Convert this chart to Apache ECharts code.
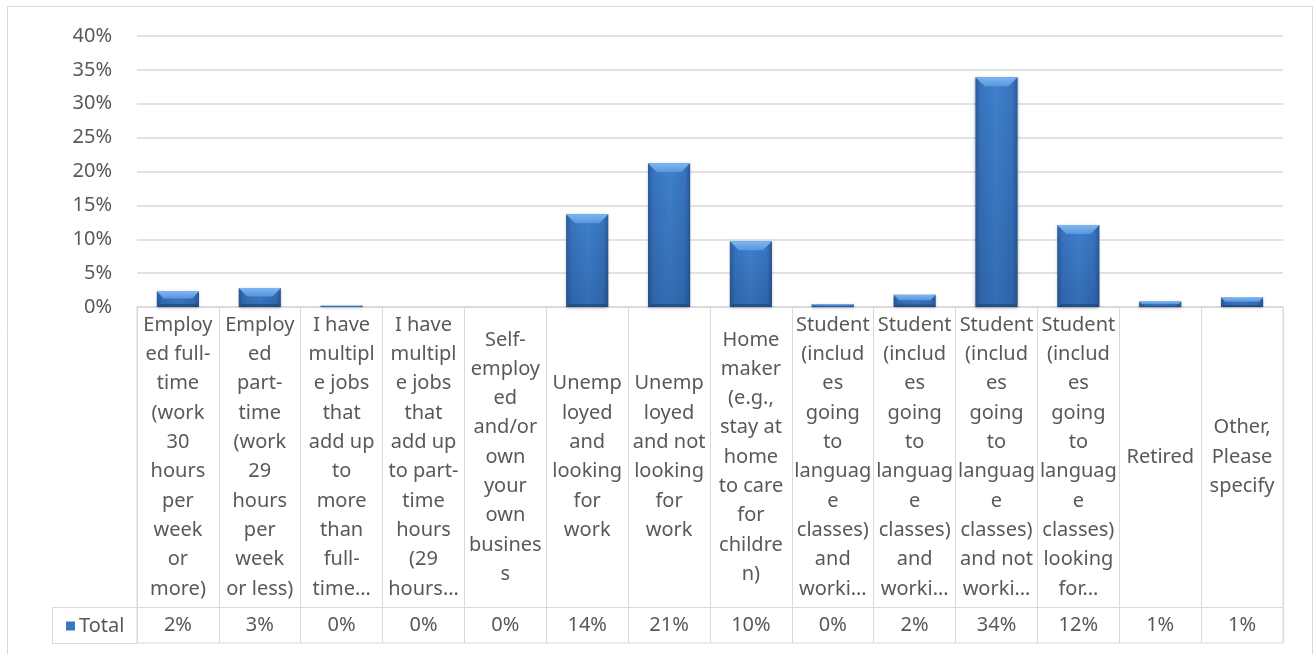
<!DOCTYPE html>
<html><head><meta charset="utf-8">
<script src="https://cdn.jsdelivr.net/npm/echarts@6/dist/echarts.min.js"></script>
<style>html,body{margin:0;padding:0;background:#fff}#c{width:1313px;height:654px}</style>
</head><body><div id="c"></div>
<script>
var categories = [
  "Employ\ned full-\ntime\n(work\n30\nhours\nper\nweek\nor\nmore)",
  "Employ\ned\npart-\ntime\n(work\n29\nhours\nper\nweek\nor less)",
  "I have\nmultipl\ne jobs\nthat\nadd up\nto\nmore\nthan\nfull-\ntime\u2026",
  "I have\nmultipl\ne jobs\nthat\nadd up\nto part-\ntime\nhours\n(29\nhours\u2026",
  "Self-\nemploy\ned\nand/or\nown\nyour\nown\nbusines\ns",
  "Unemp\nloyed\nand\nlooking\nfor\nwork",
  "Unemp\nloyed\nand not\nlooking\nfor\nwork",
  "Home\nmaker\n(e.g.,\nstay at\nhome\nto care\nfor\nchildre\nn)",
  "Student\n(includ\nes\ngoing\nto\nlanguag\ne\nclasses)\nand\nworki\u2026",
  "Student\n(includ\nes\ngoing\nto\nlanguag\ne\nclasses)\nand\nworki\u2026",
  "Student\n(includ\nes\ngoing\nto\nlanguag\ne\nclasses)\nand not\nworki\u2026",
  "Student\n(includ\nes\ngoing\nto\nlanguag\ne\nclasses)\nlooking\nfor\u2026",
  "Retired",
  "Other,\nPlease\nspecify"
];
var seriesName = "Total";
var totals = [2.3, 2.8, 0.2, 0, 0, 13.7, 21.2, 9.7, 0.4, 1.8, 33.9, 12.1, 0.8, 1.4];
var yMin = 0, yMax = 40, yStep = 5;

var valueLabels = totals.map(function (v) { return Math.round(v) + "%"; });
var txt = "#595959", line = "#d9d9d9", font = "Noto Sans";

var bodyGrad = new echarts.graphic.LinearGradient(0, 0, 1, 0, [
  {offset: 0, color: "#2a5c9c"}, {offset: 0.12, color: "#3874be"},
  {offset: 0.5, color: "#3f80cd"}, {offset: 0.88, color: "#3874be"},
  {offset: 1, color: "#29599a"}]);
var shadeGrad = new echarts.graphic.LinearGradient(0, 0, 0, 1, [
  {offset: 0, color: "rgba(0,20,60,0)"}, {offset: 1, color: "rgba(0,20,60,0.18)"}]);
var topGrad = new echarts.graphic.LinearGradient(0, 0, 0, 1, [
  {offset: 0, color: "#7db6f2"}, {offset: 1, color: "#5895dc"}]);

function renderBar(params, api) {
  var xi = api.value(0), v = api.value(1);
  var t = api.coord([xi, v]), b = api.coord([xi, 0]);
  var bw = api.size([1, 0])[0] * 0.515;
  var l = t[0] - bw / 2, r = t[0] + bw / 2;
  var h = b[1] - t[1];
  if (h <= 0.3) return;
  var bev = Math.min(9, h * 0.45);
  var side = Math.min(4, bw / 8);
  var bbot = Math.min(3, h * 0.2);
  return {
    type: "group",
    children: [
      {type: "rect", shape: {x: l, y: t[1], width: bw, height: h},
        style: {fill: bodyGrad, shadowBlur: 3, shadowColor: "rgba(0,0,0,0.3)", shadowOffsetY: 1}},
      {type: "rect", shape: {x: l, y: t[1], width: bw, height: h}, style: {fill: shadeGrad}},
      {type: "polygon", shape: {points: [[l, b[1]], [r, b[1]], [r - side, b[1] - bbot], [l + side, b[1] - bbot]]},
        style: {fill: "rgba(20,50,100,0.45)"}},
      {type: "polygon", shape: {points: [[l, t[1]], [r, t[1]], [r - bev, t[1] + bev], [l + bev, t[1] + bev]]},
        style: {fill: topGrad}}
    ]
  };
}

var chart = echarts.init(document.getElementById("c"), null, {renderer: "canvas"});
chart.setOption({
  backgroundColor: "#fff",
  animation: false,
  textStyle: {fontFamily: font},
  legend: {
    data: [{name: seriesName, icon: "rect"}],
    left: 61, top: 611, itemWidth: 9, itemHeight: 9, itemGap: 6,
    textStyle: {fontSize: 20, color: txt, fontFamily: font, padding: [0, 0, 0, -1]},
    selectedMode: false
  },
  grid: [
    {left: 137, right: 30, top: 36, height: 271, containLabel: false},
    {left: 137, right: 30, top: 307, height: 336, show: true, borderColor: line, borderWidth: 1, backgroundColor: "transparent"}
  ],
  xAxis: [
    {type: "category", gridIndex: 0, data: categories,
      axisLine: {show: true, lineStyle: {color: line}}, axisTick: {show: false},
      axisLabel: {interval: 0, margin: 150, verticalAlign: "middle", align: "center", lineHeight: 29.3,
        fontSize: 20, color: txt, fontFamily: font}},
    {type: "category", gridIndex: 1, data: valueLabels,
      axisLine: {show: false}, axisTick: {show: false},
      splitLine: {show: true, interval: 0, lineStyle: {color: line, width: 1}},
      axisLabel: {interval: 0, inside: true, margin: 18, verticalAlign: "middle", fontSize: 20, color: txt, fontFamily: font}}
  ],
  yAxis: [
    {type: "value", gridIndex: 0, min: yMin, max: yMax, interval: yStep,
      axisLine: {show: false}, axisTick: {show: false},
      splitLine: {lineStyle: {color: line, width: 1.5}},
      axisLabel: {formatter: "{value}%", fontSize: 20, color: txt, margin: 25, fontFamily: font}},
    {type: "value", gridIndex: 1, show: false, min: 0, max: 1}
  ],
  graphic: [
    {type: "rect", shape: {x: 7.5, y: 6.5, width: 1305, height: 660}, style: {fill: "none", stroke: line, lineWidth: 1}, silent: true},
    {type: "line", shape: {x1: 52, y1: 607.5, x2: 1283, y2: 607.5}, style: {stroke: line, lineWidth: 1}},
    {type: "line", shape: {x1: 52.5, y1: 607, x2: 52.5, y2: 643}, style: {stroke: line, lineWidth: 1}},
    {type: "line", shape: {x1: 52, y1: 643.5, x2: 137, y2: 643.5}, style: {stroke: line, lineWidth: 1}}
  ],
  series: [{
    name: seriesName, type: "custom", xAxisIndex: 0, yAxisIndex: 0,
    itemStyle: {color: "#3a77c2"},
    encode: {x: 0, y: 1},
    data: totals.map(function (v, i) { return [i, v]; }),
    renderItem: renderBar
  }]
});
</script></body></html>
